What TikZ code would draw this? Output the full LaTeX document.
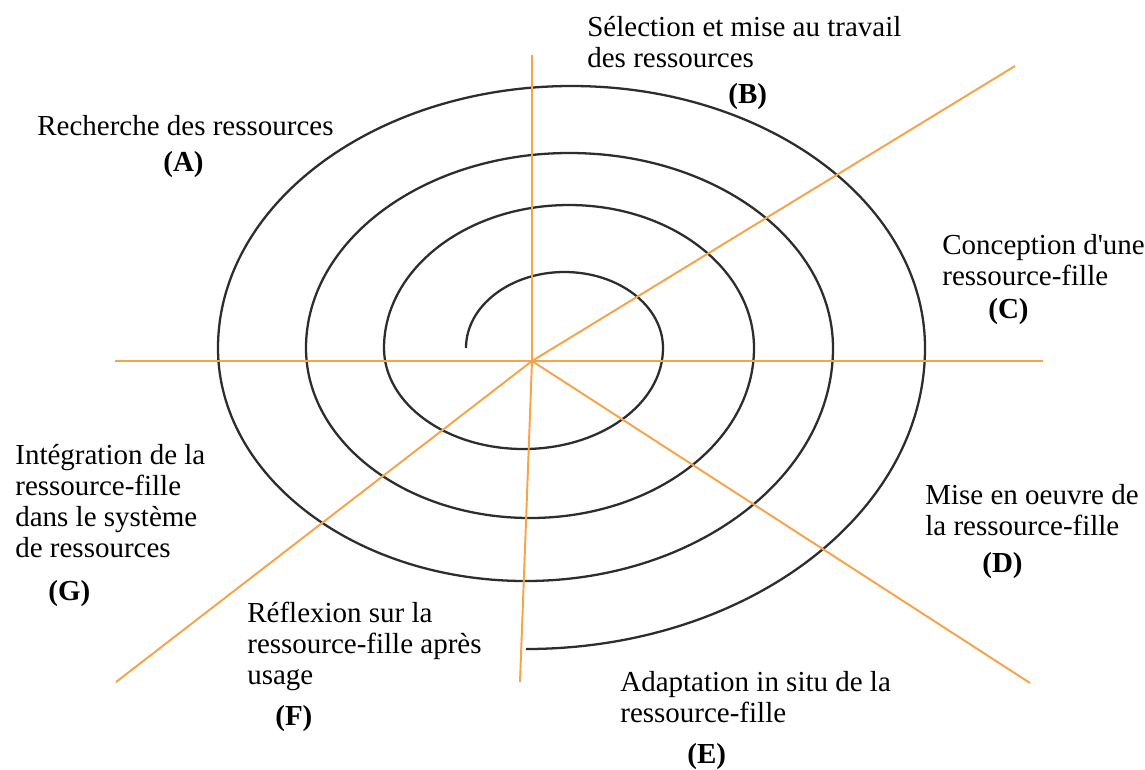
\documentclass[tikz,border=0pt]{standalone}
\usepackage{fontspec}
\newfontfamily\ressfont{Liberation Serif}
\usepackage{xcolor}
\usepackage{tikz}
\usetikzlibrary{positioning}

\definecolor{axeorange}{RGB}{247,163,72}
\definecolor{spiregray}{RGB}{45,45,45}

\begin{document}
\begin{tikzpicture}
               [x=0.02cm, y=-0.02cm,
                axe/.style = {draw=axeorange, line width=1.1pt},
                spire/.style = {draw=spiregray, line width=1.3pt},
                txt/.style = {anchor=base west, align=left, inner sep=0pt, font=\ressfont\fontsize{16.5}{17.6}\selectfont},
                lab/.style = {anchor=base west, inner sep=0pt, font=\ressfont\fontsize{16.5}{17.6}\selectfont\bfseries}]
                \fill[white] (0,0) rectangle (1145,769);
                \useasboundingbox (0,0) rectangle (1145,769);
                % Spiral
                \draw[spire] (466,348) arc[start angle=180, end angle=360, x radius=98.5, y radius=76]
                    arc[start angle=0, end angle=180, x radius=139.5, y radius=101]
                    arc[start angle=180, end angle=360, x radius=185, y radius=143]
                    arc[start angle=0, end angle=180, x radius=224, y radius=170]
                    arc[start angle=180, end angle=360, x radius=263.5, y radius=195]
                    arc[start angle=0, end angle=180, x radius=307.5, y radius=233]
                    arc[start angle=180, end angle=360, x radius=353.5, y radius=262]
                    arc[start angle=0, end angle=90, x radius=399, y radius=301];
                % Centre and ends of the axes
                \coordinate (O) at (532,361);
                \coordinate (w) at (115,361);
                \coordinate (e) at (1043,361);
                \coordinate (n) at (532,55);
                \coordinate (s) at (520,682);
                \coordinate (ne) at (1015,66);
                \coordinate (sw) at (116,682);
                \coordinate (se) at (1030,683);
                % Axes
                \path[axe] (w) edge (e);
                \path[axe] (O) edge (n);
                \path[axe] (O) edge (s);
                \path[axe] (O) edge (ne);
                \path[axe] (O) edge (sw);
                \path[axe] (O) edge (se);
                % Phases (placed at the baseline of their last line)
                \node[txt] (A) at (37,135) {Recherche des ressources};
                \node[lab] (Alab) at (163,171) {(A)};
                \node[txt] (B) at (587,67) {Sélection et mise au travail\\des ressources};
                \node[lab] (Blab) at (728,103) {(B)};
                \node[txt] (C) at (942,285) {Conception d'une\\ressource-fille};
                \node[lab] (Clab) at (988,318) {(C)};
                \node[txt] (D) at (925,535) {Mise en oeuvre de\\la ressource-fille};
                \node[lab] (Dlab) at (982,572) {(D)};
                \node[txt] (E) at (620,722) {Adaptation in situ de la\\ressource-fille};
                \node[lab] (Elab) at (687,763) {(E)};
                \node[txt] (F) at (247,684) {Réflexion sur la\\ressource-fille après\\usage};
                \node[lab] (Flab) at (275,725) {(F)};
                \node[txt] (G) at (15,557) {Intégration de la\\ressource-fille\\dans le système\\de ressources};
                \node[lab] (Glab) at (48,600) {(G)};
\end{tikzpicture}
\end{document}
